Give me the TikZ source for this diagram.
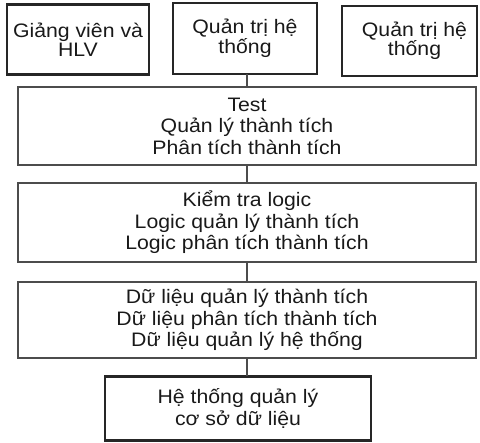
\documentclass[tikz,border=0pt]{standalone}
\usepackage{fontspec}
\setmainfont{Liberation Sans}[FakeStretch=1.09]
\begin{document}
\begin{tikzpicture}[x=1pt,y=-1pt,
  every node/.style={inner sep=0pt, outer sep=0pt, align=center, text=black!90},
  thickbox/.style={draw=black!85, line width=2.4pt, font=\fontsize{19.5}{19.5}\selectfont},
  thinbox/.style={draw=black!70, line width=1.2pt, font=\fontsize{19.5}{21.5}\selectfont},
  link/.style={draw=black!70, line width=1.1pt}]
\path[use as bounding box] (0,0) rectangle (480,443);

% user roles
\node[thickbox, minimum width=142pt, minimum height=70pt] (gv) at (78,39.5) {Giảng viên và\\HLV};
\node[thickbox, minimum width=144pt, minimum height=71pt] (qt1) at (245,38.5) {Quản trị hệ\\thống};
\node[thickbox, minimum width=135pt, minimum height=70pt] (qt2) at (409.5,41) {\hspace*{10pt}Quản trị hệ\\\hspace*{10pt}thống};

% layers
\node[thinbox, minimum width=458pt, minimum height=78pt] (ui) at (247,126)
  {Test\\Quản lý thành tích\\Phân tích thành tích};
\node[thinbox, minimum width=458pt, minimum height=79pt] (logic) at (247,222.5)
  {Kiểm tra logic\\Logic quản lý thành tích\\Logic phân tích thành tích};
\node[thinbox, minimum width=458pt, minimum height=76pt] (data) at (247,320)
  {Dữ liệu quản lý thành tích\\Dữ liệu phân tích thành tích\\Dữ liệu quản lý hệ thống};
\node[thickbox, minimum width=266pt, minimum height=64pt, font=\fontsize{19.5}{22}\selectfont] (db) at (238,408.5)
  {\raisebox{-2pt}{Hệ thống quản lý}\\\raisebox{-2pt}{cơ sở dữ liệu}};

% connectors
\draw[link] (ui.north) -- (ui.north |- qt1.south);
\draw[link] (ui.south) -- (logic.north);
\draw[link] (logic.south) -- (data.north);
\draw[link] (data.south) -- (data.south |- db.north);
\end{tikzpicture}
\end{document}
